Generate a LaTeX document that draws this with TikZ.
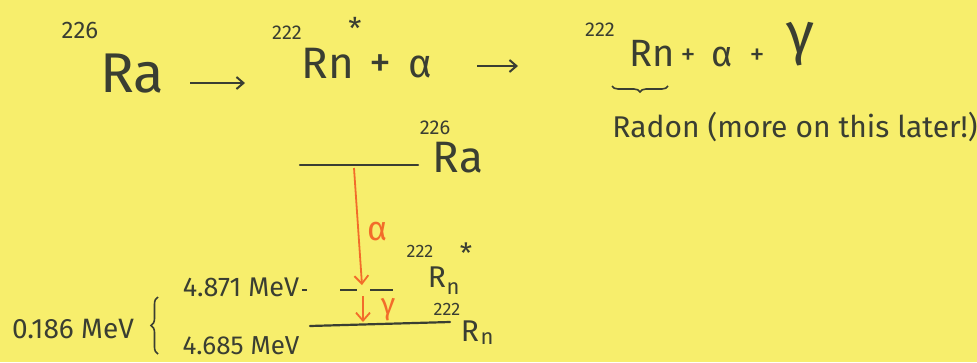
\documentclass[tikz,border=0pt]{standalone}
\usepackage{fontspec}
\setmainfont{Fira Sans}
\usetikzlibrary{decorations.pathreplacing,arrows.meta}
\definecolor{paper}{RGB}{247,238,108}
\definecolor{ink}{RGB}{58,62,50}
\definecolor{orng}{RGB}{242,108,42}
\tikzset{
  txt/.style={inner sep=0pt, text=ink, font=\fontsize{#1}{#1}\selectfont},
  otxt/.style={inner sep=0pt, text=orng, font=\fontsize{#1}{#1}\selectfont},
  reacarrow/.style={draw=ink, line width=2pt, -{Straight Barb[length=7pt,width=12pt]}},
  decayarrow/.style={draw=orng, line width=1.8pt, -{Straight Barb[length=8pt,width=14pt]}},
  level/.style={draw=ink, line width=2.2pt, line cap=round},
  bracedeco/.style={draw=ink, line width=1.6pt, decorate, decoration={brace, amplitude=#1}},
}
\begin{document}
\begin{tikzpicture}[x=1pt,y=-1pt]
\fill[paper] (0,0) rectangle (977,362);
\useasboundingbox (0,0) rectangle (977,362);
% reaction line
\node[txt=24] (m226) at (80,30) {226};
\node[txt=56] (ra) at (132,74) {Ra};
\coordinate (a1s) at (190,83);
\coordinate (a1e) at (245,83);
\draw[reacarrow] (a1s) -- (a1e);
\node[txt=20] (m222a) at (287,33) {222};
\node[txt=30] (stara) at (355,28) {*};
\node[txt=44] (rna) at (328,63) {Rn};
\node[txt=44] (plusa) at (380,66) {+};
\node[txt=40] (alpa) at (420,67) {α};
\coordinate (a2s) at (477,66);
\coordinate (a2e) at (518,66);
\draw[reacarrow] (a2s) -- (a2e);
\node[txt=20] (m222b) at (600,30) {222};
\node[txt=38] (rnb) at (652,53) {Rn};
\node[txt=30] (plusb) at (688,57) {+};
\node[txt=36] (alpb) at (722,57) {α};
\node[txt=30] (plusc) at (757,57) {+};
\node[txt=58] (gamb) at (800,44) {γ};
\coordinate (ubl) at (612,86);
\coordinate (ubr) at (668,86);
\draw[bracedeco=6pt, decoration={mirror}] (ubl) -- (ubr);
\node[txt=30] (radon) at (795,127) {Radon (more on this later!)};
% energy diagram
\node[txt=20] (m226b) at (435,128) {226};
\node[txt=44] (rac) at (458,158) {Ra};
\coordinate (ral) at (300,165);
\coordinate (rar) at (418,165);
\draw[level] (ral) -- (rar);
\coordinate (als) at (354,168);
\coordinate (ale) at (362,285);
\draw[decayarrow] (als) -- (ale);
\node[otxt=34] (alpc) at (378,232) {α};
\node[txt=18] (m222c) at (420,251) {222};
\node[txt=28] (starc) at (466,253) {*};
\node[txt=30] (rc) at (437,277) {R};
\node[txt=22] (nc) at (453,289) {n};
\coordinate (exl) at (302,290);
\coordinate (exr) at (420,290);
\draw[draw=ink, line width=2pt, dash pattern=on 5pt off 33pt on 17pt off 13pt on 23pt off 27pt] (exl) -- (exr);
\coordinate (gas) at (363,296);
\coordinate (gae) at (363,322);
\draw[decayarrow] (gas) -- (gae);
\node[otxt=30] (gamc) at (388,310) {γ};
\coordinate (gl) at (310,326);
\coordinate (gr) at (450,322);
\draw[level] (gl) -- (gr);
\node[txt=18] (m222d) at (447,309) {222};
\node[txt=30] (rd) at (470,331) {R};
\node[txt=22] (nd) at (487,339) {n};
\node[txt=27] (e1) at (241,287) {4.871 MeV};
\node[txt=26] (e2) at (241,346) {4.685 MeV};
\coordinate (bb) at (158,354);
\coordinate (bt) at (158,297);
\draw[bracedeco=7pt] (bb) -- (bt);
\node[txt=28] (diff) at (73,329) {0.186 MeV};
\end{tikzpicture}
\end{document}
